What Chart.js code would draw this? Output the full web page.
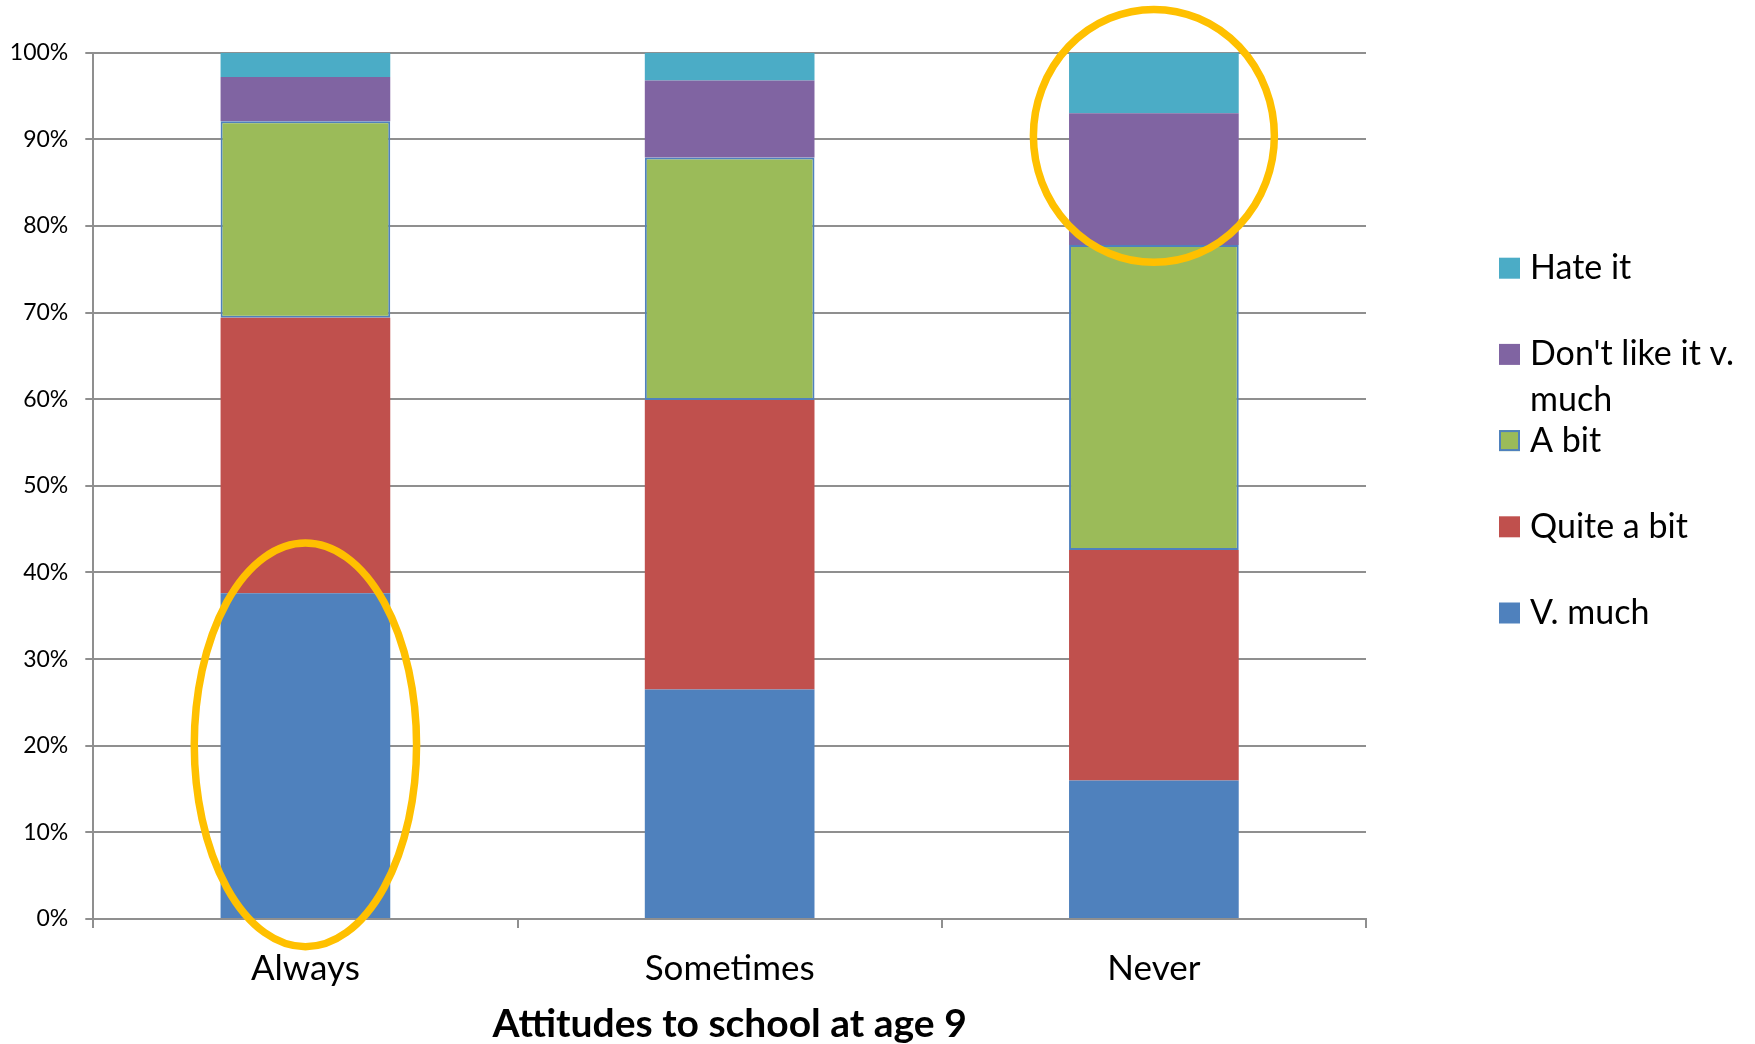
<!DOCTYPE html>
<html>
<head>
<meta charset="utf-8">
<title>Attitudes to school at age 9</title>
<script src="https://cdn.jsdelivr.net/npm/chart.js@4.4.1/dist/chart.umd.min.js"></script>
<style>
  html, body { margin: 0; padding: 0; background: #ffffff; }
  #wrap { width: 1755px; height: 1044px; position: relative; }
</style>
</head>
<body>
<div id="wrap"><canvas id="chart" width="1755" height="1044"></canvas></div>
<script>
// Categories along the x axis
const categories = ['Always', 'Sometimes', 'Never'];

// Share of pupils (%) in each attitude group, stacked bottom to top
const vMuch      = [37.6, 26.5, 16.0];
const quiteABit  = [31.8, 33.4, 26.6];
const aBit       = [22.7, 28.0, 35.2];
const dontLike   = [5.1, 8.9, 15.2];
const hateIt     = [2.8, 3.2, 7.0];

// Y axis tick values (percent)
const yTickValues = [0, 10, 20, 30, 40, 50, 60, 70, 80, 90, 100];

// Series names as shown in the legend
const seriesNames = ['V. much', 'Quite a bit', 'A bit', "Don't like it v. much", 'Hate it'];

const FONT = 'Lato, "Open Sans", sans-serif';
const GRID = '#8f8f8f';

// Highlight rings: centred on a category, vertical centre/radius in axis units,
// horizontal radius as a fraction of one category width
const highlights = [
  { category: 0, value: 20.1, ry: 23.3, rxFrac: 0.262 },
  { category: 2, value: 90.4, ry: 14.6, rxFrac: 0.284 }
];

const ringPlugin = {
  id: 'rings',
  afterDatasetsDraw(chart) {
    const { ctx, scales: { x, y } } = chart;
    const catW = (x.right - x.left) / categories.length;
    ctx.save();
    ctx.strokeStyle = '#FFC000';
    ctx.lineWidth = 7.5;
    highlights.forEach(h => {
      const cx = x.getPixelForValue(h.category);
      const cy = y.getPixelForValue(h.value);
      const ry = Math.abs(y.getPixelForValue(h.value + h.ry) - cy);
      const rx = catW * h.rxFrac;
      ctx.beginPath();
      ctx.ellipse(cx, cy, rx, ry, 0, 0, Math.PI * 2);
      ctx.stroke();
    });
    ctx.restore();
  }
};

// Legend on the right, listed top series first; long names wrap onto two lines
const sideLegend = {
  id: 'sideLegend',
  afterDraw(chart) {
    const { ctx, chartArea } = chart;
    const x0 = chartArea.right + 133;
    const size = 21;
    const step = 86.2;
    const top = chartArea.top + 215.5;
    const wrapped = { "Don't like it v. much": ["Don't like it v.", 'much'] };
    ctx.save();
    ctx.font = '34px ' + FONT;
    ctx.textBaseline = 'middle';
    ctx.textAlign = 'left';
    const items = chart.data.datasets.slice().reverse();
    items.forEach((ds, i) => {
      const cy = top + i * step;
      ctx.fillStyle = ds.backgroundColor;
      ctx.fillRect(x0, cy - size / 2, size, size);
      if (ds.borderWidth) {
        ctx.strokeStyle = ds.borderColor;
        ctx.lineWidth = 2;
        ctx.strokeRect(x0 + 1, cy - size / 2 + 1, size - 2, size - 2);
      }
      ctx.fillStyle = '#000000';
      const lines = wrapped[ds.label] || [ds.label];
      lines.forEach((line, j) => ctx.fillText(line, x0 + 31, cy + j * 46));
    });
    ctx.restore();
  }
};

const colors = ['#4F81BD', '#C0504D', '#9BBB59', '#8064A2', '#4BACC6'];
const seriesValues = [vMuch, quiteABit, aBit, dontLike, hateIt];

const datasets = seriesValues.map((vals, i) => ({
  label: seriesNames[i],
  data: vals,
  backgroundColor: colors[i],
  borderColor: i === 2 ? '#4F81BD' : colors[i],
  borderWidth: i === 2 ? 2 : 0,
  borderSkipped: false,
  barPercentage: 0.4,
  categoryPercentage: 1.0
}));

new Chart(document.getElementById('chart'), {
  type: 'bar',
  data: { labels: categories, datasets },
  options: {
    responsive: false,
    animation: false,
    devicePixelRatio: 1,
    layout: { padding: { top: 52.7, right: 389, left: 0, bottom: 0 } },
    plugins: {
      legend: { display: false },
      tooltip: { enabled: false }
    },
    scales: {
      x: {
        stacked: true,
        offset: true,
        grid: {
          offset: true,
          drawOnChartArea: false,
          drawTicks: true,
          tickLength: 9,
          color: GRID,
          lineWidth: 2
        },
        border: { display: true, color: GRID, width: 2 },
        ticks: {
          color: '#000000',
          font: { family: FONT, size: 35 },
          padding: 20,
          maxRotation: 0
        },
        title: {
          display: true,
          text: 'Attitudes to school at age 9',
          color: '#000000',
          font: { family: FONT, size: 39, weight: 'bold', lineHeight: 1.0 },
          padding: { top: 0, bottom: 0 }
        },
        afterFit(scale) { scale.height = 125; }
      },
      y: {
        stacked: true,
        min: 0,
        max: 100,
        afterBuildTicks(scale) { scale.ticks = yTickValues.map(v => ({ value: v })); },
        grid: {
          color: GRID,
          lineWidth: 2,
          drawTicks: true,
          tickLength: 8
        },
        border: { display: true, color: GRID, width: 2 },
        ticks: {
          color: '#000000',
          font: { family: FONT, size: 23 },
          padding: 17,
          callback: v => v + '%'
        },
        afterFit(scale) { scale.width = 93.3; }
      }
    }
  },
  plugins: [ringPlugin, sideLegend]
});
</script>
</body>
</html>
